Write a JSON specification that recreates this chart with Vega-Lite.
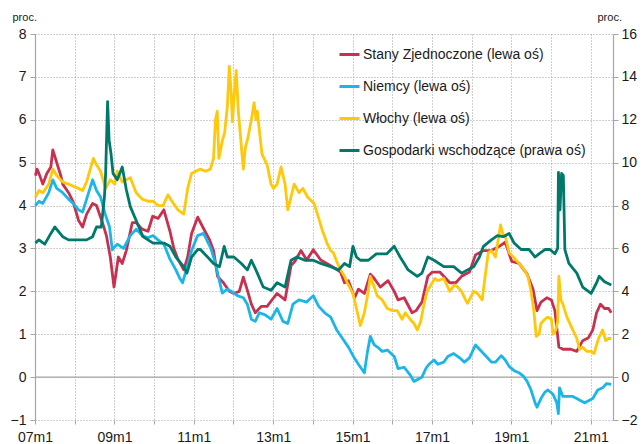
{
  "$schema": "https://vega.github.io/schema/vega-lite/v6.json",
  "width": 578,
  "height": 386,
  "autosize": "none",
  "padding": {"left": 35, "top": 34, "right": 30, "bottom": 24},
  "background": "white",
  "config": {
    "font": "Liberation Sans",
    "view": {"stroke": null},
    "axis": {"labelFont": "Liberation Sans", "titleFont": "Liberation Sans"}
  },
  "datasets": {
    "us": [
      {"d":"2007-01-05","v":4.7},{"d":"2007-01-20","v":4.85},{"d":"2007-02-06","v":4.75},{"d":"2007-03-14","v":4.5},{"d":"2007-04-20","v":4.75},{"d":"2007-05-27","v":4.9},{"d":"2007-06-14","v":5.3},{"d":"2007-07-20","v":5.0},{"d":"2007-08-26","v":4.7},{"d":"2007-09-13","v":4.5},{"d":"2007-11-06","v":4.3},{"d":"2007-12-16","v":4.1},
      {"d":"2008-01-20","v":3.8},{"d":"2008-02-06","v":3.65},{"d":"2008-03-14","v":3.5},{"d":"2008-04-20","v":3.8},{"d":"2008-06-14","v":4.05},{"d":"2008-07-20","v":4.0},{"d":"2008-09-13","v":3.6},{"d":"2008-10-19","v":3.3},{"d":"2008-11-24","v":2.8},{"d":"2008-12-28","v":2.1},
      {"d":"2009-01-20","v":2.5},{"d":"2009-02-06","v":2.8},{"d":"2009-03-14","v":2.65},{"d":"2009-04-20","v":2.95},{"d":"2009-06-14","v":3.6},{"d":"2009-07-20","v":3.6},{"d":"2009-09-13","v":3.45},{"d":"2009-11-06","v":3.4},{"d":"2009-12-19","v":3.75},
      {"d":"2010-02-06","v":3.7},{"d":"2010-04-01","v":3.9},{"d":"2010-05-27","v":3.4},{"d":"2010-07-02","v":3.0},{"d":"2010-08-08","v":2.75},{"d":"2010-10-01","v":2.5},{"d":"2010-11-06","v":2.8},{"d":"2010-12-12","v":3.35},
      {"d":"2011-02-06","v":3.73},{"d":"2011-04-08","v":3.43},{"d":"2011-05-27","v":3.2},{"d":"2011-07-02","v":2.95},{"d":"2011-08-08","v":2.35},{"d":"2011-10-01","v":2.2},{"d":"2011-11-24","v":2.0},
      {"d":"2012-01-05","v":1.95},{"d":"2012-02-24","v":2.0},{"d":"2012-04-01","v":2.33},{"d":"2012-05-08","v":2.03},{"d":"2012-06-14","v":1.7},{"d":"2012-07-20","v":1.5},{"d":"2012-09-13","v":1.65},{"d":"2012-11-06","v":1.65},
      {"d":"2013-01-05","v":1.85},{"d":"2013-02-06","v":1.95},{"d":"2013-04-20","v":1.8},{"d":"2013-06-14","v":2.6},{"d":"2013-07-20","v":2.7},{"d":"2013-09-13","v":2.95},{"d":"2013-11-06","v":2.73},
      {"d":"2014-01-05","v":2.97},{"d":"2014-03-14","v":2.73},{"d":"2014-06-14","v":2.6},{"d":"2014-09-13","v":2.45},{"d":"2014-10-19","v":2.2},{"d":"2014-11-24","v":2.25},
      {"d":"2015-01-20","v":1.85},{"d":"2015-02-24","v":2.05},{"d":"2015-04-20","v":1.95},{"d":"2015-06-14","v":2.4},{"d":"2015-07-20","v":2.3},{"d":"2015-09-13","v":2.1},{"d":"2015-11-24","v":2.25},
      {"d":"2016-01-20","v":2.0},{"d":"2016-02-24","v":1.8},{"d":"2016-04-20","v":1.85},{"d":"2016-07-02","v":1.5},{"d":"2016-08-08","v":1.55},{"d":"2016-10-01","v":1.75},{"d":"2016-11-24","v":2.35},
      {"d":"2017-01-05","v":2.45},{"d":"2017-03-14","v":2.45},{"d":"2017-06-14","v":2.2},{"d":"2017-08-08","v":2.2},{"d":"2017-10-01","v":2.35},{"d":"2017-12-12","v":2.45},
      {"d":"2018-02-06","v":2.85},{"d":"2018-04-20","v":2.95},{"d":"2018-07-02","v":2.95},{"d":"2018-09-13","v":3.05},{"d":"2018-11-06","v":3.15},
      {"d":"2019-01-05","v":2.7},{"d":"2019-03-14","v":2.65},{"d":"2019-05-27","v":2.4},{"d":"2019-07-20","v":2.05},{"d":"2019-08-26","v":1.55},{"d":"2019-10-01","v":1.75},{"d":"2019-11-24","v":1.85},
      {"d":"2020-01-05","v":1.8},{"d":"2020-02-06","v":1.55},{"d":"2020-03-14","v":0.7},{"d":"2020-04-20","v":0.65},{"d":"2020-07-02","v":0.65},{"d":"2020-08-26","v":0.6},{"d":"2020-10-19","v":0.85},{"d":"2020-12-12","v":0.92},
      {"d":"2021-01-20","v":1.1},{"d":"2021-02-24","v":1.5},{"d":"2021-04-01","v":1.7},{"d":"2021-05-08","v":1.6},{"d":"2021-06-14","v":1.6},{"d":"2021-07-09","v":1.5}
    ],
    "de": [
      {"d":"2007-01-05","v":4.0},{"d":"2007-02-06","v":4.1},{"d":"2007-03-14","v":4.05},{"d":"2007-05-08","v":4.3},{"d":"2007-06-14","v":4.6},{"d":"2007-07-20","v":4.4},{"d":"2007-09-13","v":4.3},{"d":"2007-11-06","v":4.15},{"d":"2007-12-19","v":4.05},
      {"d":"2008-02-06","v":3.9},{"d":"2008-03-14","v":3.85},{"d":"2008-04-20","v":4.15},{"d":"2008-06-14","v":4.6},{"d":"2008-07-20","v":4.35},{"d":"2008-08-26","v":4.2},{"d":"2008-10-08","v":3.8},{"d":"2008-11-17","v":3.5},{"d":"2008-12-12","v":2.97},
      {"d":"2009-01-27","v":3.1},{"d":"2009-03-25","v":3.0},{"d":"2009-05-27","v":3.3},{"d":"2009-07-20","v":3.45},{"d":"2009-09-13","v":3.3},{"d":"2009-11-06","v":3.25},{"d":"2009-12-23","v":3.3},
      {"d":"2010-02-06","v":3.2},{"d":"2010-04-01","v":3.1},{"d":"2010-05-27","v":2.75},{"d":"2010-07-20","v":2.5},{"d":"2010-08-26","v":2.3},{"d":"2010-09-20","v":2.2},{"d":"2010-10-30","v":2.55},{"d":"2010-12-12","v":2.95},
      {"d":"2011-02-06","v":3.3},{"d":"2011-04-01","v":3.35},{"d":"2011-06-07","v":3.0},{"d":"2011-07-20","v":2.65},{"d":"2011-08-15","v":2.35},{"d":"2011-09-20","v":1.96},{"d":"2011-11-06","v":2.05},{"d":"2011-12-12","v":2.0},
      {"d":"2012-02-06","v":1.9},{"d":"2012-04-01","v":1.85},{"d":"2012-05-08","v":1.7},{"d":"2012-06-14","v":1.35},{"d":"2012-07-20","v":1.3},{"d":"2012-08-26","v":1.5},{"d":"2012-10-19","v":1.45},{"d":"2012-12-12","v":1.35},
      {"d":"2013-02-06","v":1.6},{"d":"2013-04-01","v":1.3},{"d":"2013-05-15","v":1.25},{"d":"2013-07-02","v":1.7},{"d":"2013-08-26","v":1.8},{"d":"2013-11-06","v":1.75},
      {"d":"2014-01-05","v":1.9},{"d":"2014-02-24","v":1.65},{"d":"2014-04-20","v":1.5},{"d":"2014-06-14","v":1.4},{"d":"2014-08-08","v":1.1},{"d":"2014-10-01","v":0.9},{"d":"2014-11-24","v":0.7},
      {"d":"2015-01-12","v":0.47},{"d":"2015-02-24","v":0.3},{"d":"2015-04-20","v":0.1},{"d":"2015-05-19","v":0.6},{"d":"2015-06-14","v":0.95},{"d":"2015-07-20","v":0.75},{"d":"2015-08-19","v":0.7},{"d":"2015-10-01","v":0.6},{"d":"2015-11-17","v":0.63},
      {"d":"2016-01-20","v":0.48},{"d":"2016-02-24","v":0.2},{"d":"2016-04-20","v":0.23},{"d":"2016-06-14","v":0.05},{"d":"2016-07-20","v":-0.1},{"d":"2016-08-26","v":-0.05},{"d":"2016-10-01","v":0.0},{"d":"2016-11-06","v":0.2},{"d":"2016-12-05","v":0.3},
      {"d":"2017-01-20","v":0.4},{"d":"2017-02-24","v":0.3},{"d":"2017-04-20","v":0.35},{"d":"2017-05-27","v":0.48},{"d":"2017-07-20","v":0.55},{"d":"2017-09-13","v":0.45},{"d":"2017-10-26","v":0.35},{"d":"2017-12-12","v":0.45},
      {"d":"2018-02-06","v":0.75},{"d":"2018-03-14","v":0.65},{"d":"2018-04-20","v":0.55},{"d":"2018-05-27","v":0.45},{"d":"2018-07-02","v":0.35},{"d":"2018-08-08","v":0.35},{"d":"2018-10-01","v":0.5},{"d":"2018-11-06","v":0.4},{"d":"2018-12-12","v":0.25},
      {"d":"2019-01-27","v":0.15},{"d":"2019-03-14","v":0.1},{"d":"2019-04-20","v":0.03},{"d":"2019-05-27","v":-0.1},{"d":"2019-07-02","v":-0.3},{"d":"2019-08-08","v":-0.6},{"d":"2019-08-26","v":-0.7},{"d":"2019-10-01","v":-0.5},{"d":"2019-11-06","v":-0.35},{"d":"2019-12-05","v":-0.3},
      {"d":"2020-01-20","v":-0.4},{"d":"2020-02-24","v":-0.6},{"d":"2020-03-09","v":-0.85},{"d":"2020-03-20","v":-0.25},{"d":"2020-04-20","v":-0.45},{"d":"2020-05-27","v":-0.45},{"d":"2020-07-20","v":-0.45},{"d":"2020-08-26","v":-0.5},{"d":"2020-10-01","v":-0.55},{"d":"2020-11-06","v":-0.6},{"d":"2020-12-12","v":-0.55},
      {"d":"2021-01-20","v":-0.5},{"d":"2021-03-07","v":-0.3},{"d":"2021-04-20","v":-0.25},{"d":"2021-05-27","v":-0.15},{"d":"2021-07-09","v":-0.17}
    ],
    "it": [
      {"d":"2007-01-05","v":4.2},{"d":"2007-02-06","v":4.35},{"d":"2007-03-14","v":4.3},{"d":"2007-05-08","v":4.5},{"d":"2007-06-14","v":4.85},{"d":"2007-07-20","v":4.7},{"d":"2007-09-13","v":4.55},{"d":"2007-11-06","v":4.5},{"d":"2007-12-19","v":4.45},
      {"d":"2008-02-06","v":4.4},{"d":"2008-03-14","v":4.35},{"d":"2008-04-20","v":4.55},{"d":"2008-06-21","v":5.1},{"d":"2008-07-20","v":4.95},{"d":"2008-08-26","v":4.8},{"d":"2008-10-12","v":4.4},{"d":"2008-11-24","v":4.6},
      {"d":"2009-01-05","v":4.5},{"d":"2009-01-27","v":4.8},{"d":"2009-03-14","v":4.55},{"d":"2009-04-20","v":4.6},{"d":"2009-05-27","v":4.65},{"d":"2009-07-20","v":4.3},{"d":"2009-09-13","v":4.15},{"d":"2009-11-06","v":4.1},{"d":"2009-12-23","v":4.1},
      {"d":"2010-02-06","v":4.0},{"d":"2010-03-25","v":4.0},{"d":"2010-05-08","v":4.25},{"d":"2010-06-14","v":4.1},{"d":"2010-08-08","v":3.9},{"d":"2010-10-01","v":3.8},{"d":"2010-11-06","v":4.4},{"d":"2010-12-12","v":4.75},
      {"d":"2011-01-20","v":4.8},{"d":"2011-03-03","v":4.85},{"d":"2011-04-20","v":4.8},{"d":"2011-06-03","v":4.85},{"d":"2011-07-02","v":5.1},{"d":"2011-07-20","v":6.0},{"d":"2011-08-05","v":6.2},{"d":"2011-08-20","v":5.1},{"d":"2011-09-20","v":5.5},{"d":"2011-10-12","v":5.7},{"d":"2011-11-06","v":6.3},{"d":"2011-11-24","v":7.25},{"d":"2011-12-12","v":6.6},{"d":"2011-12-23","v":5.95},
      {"d":"2012-01-12","v":6.7},{"d":"2012-01-27","v":7.15},{"d":"2012-02-15","v":6.2},{"d":"2012-03-03","v":5.7},{"d":"2012-04-01","v":4.85},{"d":"2012-04-20","v":5.35},{"d":"2012-05-15","v":5.6},{"d":"2012-06-14","v":6.0},{"d":"2012-07-09","v":6.4},{"d":"2012-07-27","v":6.0},{"d":"2012-08-08","v":6.2},{"d":"2012-09-02","v":5.6},{"d":"2012-09-20","v":5.2},{"d":"2012-11-06","v":4.95},{"d":"2012-12-12","v":4.5},
      {"d":"2013-01-05","v":4.4},{"d":"2013-02-06","v":4.5},{"d":"2013-03-14","v":4.9},{"d":"2013-04-20","v":4.5},{"d":"2013-05-15","v":3.9},{"d":"2013-06-14","v":4.2},{"d":"2013-07-13","v":4.5},{"d":"2013-08-26","v":4.3},{"d":"2013-10-01","v":4.4},{"d":"2013-11-13","v":4.2},
      {"d":"2014-01-12","v":4.05},{"d":"2014-02-24","v":3.7},{"d":"2014-04-01","v":3.4},{"d":"2014-05-15","v":3.1},{"d":"2014-06-14","v":2.95},{"d":"2014-07-09","v":2.9},{"d":"2014-08-08","v":2.7},{"d":"2014-09-13","v":2.5},{"d":"2014-10-19","v":2.35},{"d":"2014-11-13","v":2.2},
      {"d":"2015-01-05","v":1.95},{"d":"2015-02-06","v":1.6},{"d":"2015-03-14","v":1.2},{"d":"2015-04-20","v":1.5},{"d":"2015-05-19","v":1.9},{"d":"2015-06-14","v":2.35},{"d":"2015-07-20","v":2.1},{"d":"2015-08-15","v":1.9},{"d":"2015-10-01","v":1.8},{"d":"2015-11-17","v":1.6},
      {"d":"2016-01-05","v":1.55},{"d":"2016-02-17","v":1.55},{"d":"2016-04-01","v":1.35},{"d":"2016-05-01","v":1.5},{"d":"2016-06-14","v":1.35},{"d":"2016-07-20","v":1.25},{"d":"2016-08-19","v":1.1},{"d":"2016-09-20","v":1.3},{"d":"2016-10-12","v":1.6},{"d":"2016-11-17","v":2.0},{"d":"2016-12-12","v":2.1},
      {"d":"2017-01-27","v":2.3},{"d":"2017-02-24","v":2.25},{"d":"2017-04-20","v":2.3},{"d":"2017-06-14","v":2.0},{"d":"2017-07-27","v":2.15},{"d":"2017-08-26","v":2.1},{"d":"2017-10-01","v":2.0},{"d":"2017-11-06","v":1.8},{"d":"2017-11-24","v":1.72},
      {"d":"2018-01-20","v":2.0},{"d":"2018-02-24","v":1.95},{"d":"2018-04-08","v":1.8},{"d":"2018-05-08","v":2.4},{"d":"2018-06-03","v":2.9},{"d":"2018-07-02","v":2.95},{"d":"2018-08-08","v":2.8},{"d":"2018-09-24","v":3.55},{"d":"2018-10-19","v":3.3},{"d":"2018-11-06","v":3.3},{"d":"2018-12-12","v":2.9},
      {"d":"2019-01-20","v":2.8},{"d":"2019-02-24","v":2.7},{"d":"2019-04-01","v":2.6},{"d":"2019-05-01","v":2.5},{"d":"2019-06-03","v":2.35},{"d":"2019-07-02","v":2.0},{"d":"2019-07-27","v":1.55},{"d":"2019-08-19","v":0.95},{"d":"2019-09-13","v":1.0},{"d":"2019-10-01","v":1.25},{"d":"2019-11-06","v":1.35},{"d":"2019-12-05","v":1.4},
      {"d":"2020-01-05","v":1.35},{"d":"2020-01-20","v":1.0},{"d":"2020-02-15","v":1.1},{"d":"2020-03-03","v":1.3},{"d":"2020-03-14","v":2.35},{"d":"2020-04-01","v":1.8},{"d":"2020-04-20","v":1.7},{"d":"2020-05-27","v":1.4},{"d":"2020-07-02","v":1.2},{"d":"2020-07-20","v":1.1},{"d":"2020-08-26","v":0.9},{"d":"2020-09-20","v":0.65},{"d":"2020-10-19","v":0.7},{"d":"2020-11-24","v":0.6},
      {"d":"2021-01-05","v":0.6},{"d":"2021-02-01","v":0.55},{"d":"2021-02-24","v":0.75},{"d":"2021-03-14","v":0.9},{"d":"2021-04-20","v":1.1},{"d":"2021-05-19","v":0.85},{"d":"2021-06-14","v":0.9},{"d":"2021-07-09","v":0.9}
    ],
    "em": [
      {"d":"2007-01-05","v":6.25},{"d":"2007-02-06","v":6.4},{"d":"2007-04-01","v":6.2},{"d":"2007-05-27","v":6.7},{"d":"2007-07-02","v":7.0},{"d":"2007-09-13","v":6.55},{"d":"2007-11-06","v":6.4},
      {"d":"2008-01-05","v":6.4},{"d":"2008-02-24","v":6.4},{"d":"2008-04-20","v":6.4},{"d":"2008-06-14","v":6.55},{"d":"2008-07-20","v":7.0},{"d":"2008-09-02","v":7.0},{"d":"2008-10-01","v":8.4},{"d":"2008-10-12","v":9.5},{"d":"2008-10-30","v":12.85},{"d":"2008-11-13","v":11.05},{"d":"2008-12-01","v":10.4},{"d":"2008-12-19","v":9.5},
      {"d":"2009-01-27","v":9.2},{"d":"2009-03-14","v":9.8},{"d":"2009-04-20","v":8.75},{"d":"2009-05-27","v":7.95},{"d":"2009-07-20","v":7.3},{"d":"2009-09-20","v":6.55},{"d":"2009-12-23","v":6.25},
      {"d":"2010-04-01","v":6.25},{"d":"2010-05-27","v":6.1},{"d":"2010-07-20","v":5.6},{"d":"2010-10-01","v":5.15},{"d":"2010-10-30","v":4.85},{"d":"2010-12-12","v":5.6},
      {"d":"2011-02-06","v":5.95},{"d":"2011-03-03","v":5.95},{"d":"2011-05-08","v":5.6},{"d":"2011-07-02","v":5.3},{"d":"2011-08-26","v":5.15},{"d":"2011-10-08","v":6.1},{"d":"2011-11-06","v":5.6},
      {"d":"2012-01-05","v":5.6},{"d":"2012-03-14","v":5.3},{"d":"2012-05-08","v":5.0},{"d":"2012-06-14","v":5.45},{"d":"2012-08-08","v":4.85},{"d":"2012-10-01","v":4.2},{"d":"2012-12-12","v":4.05},
      {"d":"2013-02-06","v":4.4},{"d":"2013-04-20","v":4.2},{"d":"2013-06-14","v":5.45},{"d":"2013-08-08","v":5.6},{"d":"2013-10-19","v":5.45},
      {"d":"2014-01-05","v":5.45},{"d":"2014-03-14","v":5.3},{"d":"2014-06-14","v":5.15},{"d":"2014-08-26","v":5.0},{"d":"2014-10-19","v":5.3},{"d":"2014-12-05","v":5.15},
      {"d":"2015-01-05","v":6.1},{"d":"2015-02-06","v":5.6},{"d":"2015-03-14","v":5.45},{"d":"2015-05-27","v":5.45},{"d":"2015-08-08","v":5.75},{"d":"2015-11-13","v":5.75},
      {"d":"2016-01-20","v":6.1},{"d":"2016-03-14","v":5.6},{"d":"2016-05-27","v":5.0},{"d":"2016-08-19","v":4.7},{"d":"2016-10-01","v":4.85},{"d":"2016-11-24","v":5.6},
      {"d":"2017-01-20","v":5.45},{"d":"2017-04-20","v":5.15},{"d":"2017-07-20","v":5.15},{"d":"2017-10-01","v":4.85},{"d":"2017-11-24","v":5.0},
      {"d":"2018-01-20","v":5.15},{"d":"2018-03-14","v":5.6},{"d":"2018-04-20","v":6.1},{"d":"2018-07-02","v":6.4},{"d":"2018-08-26","v":6.6},{"d":"2018-10-19","v":6.55},{"d":"2018-12-12","v":6.7},
      {"d":"2019-01-27","v":6.25},{"d":"2019-04-01","v":5.95},{"d":"2019-06-14","v":5.95},{"d":"2019-08-08","v":5.6},{"d":"2019-09-13","v":5.75},{"d":"2019-11-06","v":5.95},{"d":"2019-12-23","v":5.95},
      {"d":"2020-02-06","v":5.75},{"d":"2020-03-03","v":6.0},{"d":"2020-03-10","v":9.55},{"d":"2020-03-24","v":7.8},{"d":"2020-04-08","v":9.5},{"d":"2020-04-24","v":9.4},{"d":"2020-05-08","v":5.95},{"d":"2020-06-14","v":5.3},{"d":"2020-08-26","v":4.85},{"d":"2020-10-19","v":4.2},
      {"d":"2021-01-05","v":3.9},{"d":"2021-02-24","v":4.4},{"d":"2021-03-20","v":4.7},{"d":"2021-05-08","v":4.45},{"d":"2021-07-09","v":4.3}
    ]
  },
  "layer": [
    {
      "layer": [
        {
          "data": {"values": [{"v": 0}]},
          "mark": {"type": "rule", "color": "#a6a6a6", "strokeWidth": 1.3},
          "encoding": {
            "y": {
              "field": "v", "type": "quantitative",
              "scale": {"domain": [-1, 8], "nice": false, "zero": false},
              "axis": {
                "values": [-1, 0, 1, 2, 3, 4, 5, 6, 7, 8],
                "title": "proc.", "titleAngle": 0, "titleAlign": "left", "titleBaseline": "middle",
                "titleX": -23, "titleY": -17, "titleFontSize": 11, "titleFontWeight": "normal", "titleColor": "#1a1a1a",
                "labelFontSize": 14, "labelColor": "#1a1a1a", "labelPadding": 4,
                "domainColor": "#a6a6a6", "domainWidth": 1.2,
                "tickColor": "#a6a6a6", "tickSize": 5,
                "grid": true, "gridColor": "#a0a0a0", "gridDash": [1, 2], "gridWidth": 1
              }
            }
          }
        },
        {
          "data": {"name": "us"},
          "mark": {"type": "line", "strokeWidth": 2.8, "strokeJoin": "round"},
          "encoding": {
            "x": {
              "field": "d", "type": "temporal",
              "scale": {"type": "utc", "domain": [{"year": 2007, "month": 1, "date": 1, "utc": true}, {"year": 2021, "month": 7, "date": 25, "utc": true}]},
              "axis": {
                "values": [
                  {"year": 2007, "month": 1, "date": 1, "utc": true}, {"year": 2008, "month": 1, "date": 1, "utc": true},
                  {"year": 2009, "month": 1, "date": 1, "utc": true}, {"year": 2010, "month": 1, "date": 1, "utc": true},
                  {"year": 2011, "month": 1, "date": 1, "utc": true}, {"year": 2012, "month": 1, "date": 1, "utc": true},
                  {"year": 2013, "month": 1, "date": 1, "utc": true}, {"year": 2014, "month": 1, "date": 1, "utc": true},
                  {"year": 2015, "month": 1, "date": 1, "utc": true}, {"year": 2016, "month": 1, "date": 1, "utc": true},
                  {"year": 2017, "month": 1, "date": 1, "utc": true}, {"year": 2018, "month": 1, "date": 1, "utc": true},
                  {"year": 2019, "month": 1, "date": 1, "utc": true}, {"year": 2020, "month": 1, "date": 1, "utc": true},
                  {"year": 2021, "month": 1, "date": 1, "utc": true}
                ],
                "labelExpr": "utcyear(datum.value) % 2 == 1 ? utcFormat(datum.value, '%y') + 'm1' : ''",
                "title": null, "labelFontSize": 14, "labelColor": "#1a1a1a", "labelPadding": 6,
                "labelOverlap": false, "labelFlush": false,
                "domain": false, "tickColor": "#a6a6a6", "tickSize": 4,
                "grid": true, "gridColor": "#a0a0a0", "gridDash": [1, 2], "gridWidth": 1
              }
            },
            "y": {"field": "v", "type": "quantitative"},
            "color": {
              "datum": "Stany Zjednoczone (lewa oś)",
              "scale": {
                "domain": ["Stany Zjednoczone (lewa oś)", "Niemcy (lewa oś)", "Włochy (lewa oś)", "Gospodarki wschodzące (prawa oś)"],
                "range": ["#c8304f", "#1cb5e8", "#ffc80a", "#00796b"]
              },
              "legend": {
                "orient": "none", "legendX": 303, "legendY": 9, "title": null,
                "symbolType": "stroke", "symbolSize": 400, "symbolStrokeWidth": 3,
                "labelFontSize": 14, "labelColor": "#1a1a1a", "labelOffset": 2, "rowPadding": 13, "labelLimit": 0
              }
            }
          }
        },
        {
          "data": {"name": "de"},
          "mark": {"type": "line", "strokeWidth": 2.8, "strokeJoin": "round"},
          "encoding": {
            "x": {"field": "d", "type": "temporal"},
            "y": {"field": "v", "type": "quantitative"},
            "color": {"datum": "Niemcy (lewa oś)"}
          }
        },
        {
          "data": {"name": "it"},
          "mark": {"type": "line", "strokeWidth": 2.8, "strokeJoin": "round"},
          "encoding": {
            "x": {"field": "d", "type": "temporal"},
            "y": {"field": "v", "type": "quantitative"},
            "color": {"datum": "Włochy (lewa oś)"}
          }
        }
      ]
    },
    {
      "data": {"name": "em"},
      "mark": {"type": "line", "strokeWidth": 2.8, "strokeJoin": "round"},
      "encoding": {
        "x": {"field": "d", "type": "temporal"},
        "y": {
          "field": "v", "type": "quantitative",
          "scale": {"domain": [-2, 16], "nice": false, "zero": false},
          "axis": {
            "orient": "right",
            "values": [-2, 0, 2, 4, 6, 8, 10, 12, 14, 16],
            "title": "proc.", "titleAngle": 0, "titleAlign": "left", "titleBaseline": "middle",
            "titleX": -16, "titleY": -17, "titleFontSize": 11, "titleFontWeight": "normal", "titleColor": "#1a1a1a",
            "labelFontSize": 14, "labelColor": "#1a1a1a", "labelPadding": 3,
            "domainColor": "#a6a6a6", "domainWidth": 1.2,
            "tickColor": "#a6a6a6", "tickSize": 5,
            "grid": false
          }
        },
        "color": {"datum": "Gospodarki wschodzące (prawa oś)"}
      }
    }
  ],
  "resolve": {"scale": {"y": "independent"}}
}
